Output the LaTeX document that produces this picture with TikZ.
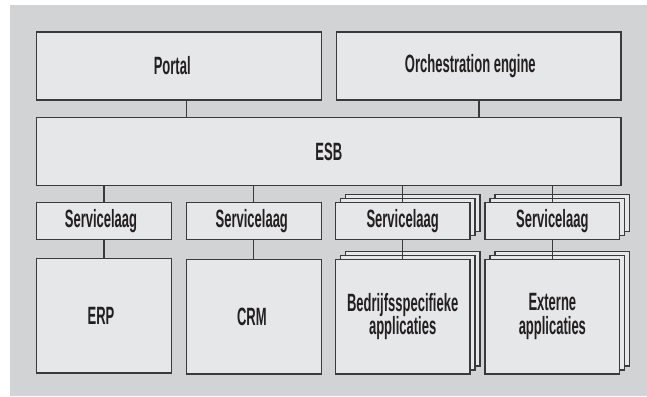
\documentclass[tikz,border=0pt]{standalone}
\usepackage{fontspec}
\newfontfamily\condfont{Liberation Sans Bold}[FakeStretch=0.52]
\usetikzlibrary{calc}
\pgfdeclarelayer{bglayer}
\pgfdeclarelayer{midlayer}
\pgfsetlayers{bglayer,midlayer,main}
\definecolor{bgc}{HTML}{D1D3D4}
\definecolor{boxc}{HTML}{E6E7E8}
\definecolor{linec}{HTML}{3A3A3A}
\definecolor{textc}{HTML}{231F20}
\tikzset{
  box/.style={draw=linec, fill=boxc, line width=1.3pt, anchor=north west,
    inner sep=0pt, outer sep=0pt, align=center, text=textc,
    font=\condfont\fontsize{25}{23.5}\selectfont},
  layer/.style={draw=linec, fill=boxc, line width=1.3pt},
  conn/.style={draw=linec, line width=1.3pt}
}
\begin{document}
\begin{tikzpicture}[x=1pt,y=-1pt]
\useasboundingbox (0,0) rectangle (647,396);
\begin{pgfonlayer}{bglayer}
  \fill[bgc] (10,5) rectangle (647,396);
\end{pgfonlayer}
% top row
\node[box, minimum width=285pt, minimum height=68pt] (portal) at (36.7,32) {\raisebox{-3pt}{Portal}\hspace*{14pt}};
\node[box, minimum width=284.3pt, minimum height=68pt] (orch) at (336.7,32) {\raisebox{-3pt}{Orchestration engine}\hspace*{17pt}};
% ESB
\node[box, minimum width=584.3pt, minimum height=68.4pt] (esb) at (36.7,117.3) {ESB};
% service layers
\node[box, minimum width=134.6pt, minimum height=37.3pt] (sl1) at (36.7,202.3) {Servicelaag\hspace*{6pt}};
\node[box, minimum width=135pt, minimum height=37.3pt] (sl2) at (186.3,202.3) {Servicelaag\hspace*{4pt}};
\node[box, minimum width=134.7pt, minimum height=37.3pt] (sl3) at (335.3,202.3) {Servicelaag};
\node[box, minimum width=134.7pt, minimum height=37.3pt] (sl4) at (485,202.3) {Servicelaag};
% applications
\node[box, minimum width=134.6pt, minimum height=114.7pt] (erp) at (36.7,258.3) {ERP\hspace*{6pt}};
\node[box, minimum width=135pt, minimum height=114.7pt] (crm) at (186.3,259.3) {CRM\hspace*{4pt}};
\node[box, minimum width=134.7pt, minimum height=114.7pt] (app3) at (335.3,259.3) {Bedrijfsspecifieke\\applicaties};
\node[box, minimum width=134.7pt, minimum height=114.7pt] (app4) at (485,259.3) {Externe\\applicaties};
% stacked copies behind
\begin{pgfonlayer}{midlayer}
  \foreach \n in {sl3,sl4,app3,app4}{
    \draw[layer] ($(\n.south west)+(10,-8)$) rectangle ($(\n.north east)+(10,-8)$);
    \draw[layer] ($(\n.south west)+(5,-4)$) rectangle ($(\n.north east)+(5,-4)$);
  }
\end{pgfonlayer}
% connectors
\draw[conn] (portal.south -| sl2.west) -- (esb.north -| sl2.west);
\draw[conn] (orch.south) -- (esb.north -| orch.south);
\foreach \n in {sl1,sl2,sl3,sl4}{
  \draw[conn] (esb.south -| \n.north) -- (\n.north);
}
\draw[conn] (sl1.south) -- (erp.north);
\draw[conn] (sl2.south) -- (crm.north);
\draw[conn] (sl3.south) -- (app3.north);
\draw[conn] (sl4.south) -- (app4.north);
\end{tikzpicture}
\end{document}
